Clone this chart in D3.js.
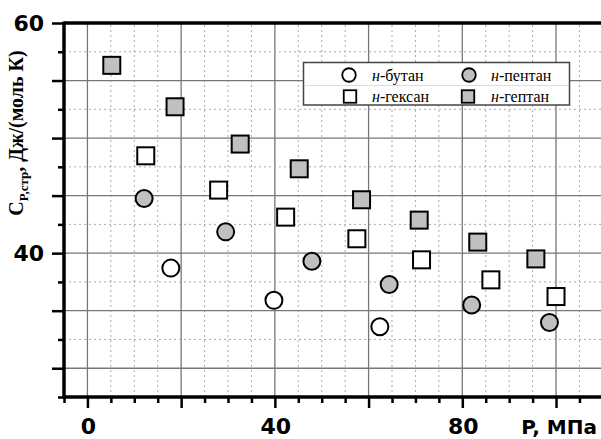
<!DOCTYPE html>
<html>
<head>
<meta charset="utf-8">
<script src="https://cdn.jsdelivr.net/npm/d3@7"></script>
<style>
  body { margin: 0; background: #fff; }
  .tickLabel { font-family: "DejaVu Sans", sans-serif; font-weight: bold; font-size: 22px; }
  .legendText { font-family: "Liberation Serif", serif; font-size: 16px; }
</style>
</head>
<body>
<div id="chart"></div>
<script>
// values: P in MPa, C in J/(mol K)
var butaneP = [17.8, 39.8, 62.4];
var butaneC = [38.7, 35.9, 33.6];
var pentaneP = [12.1, 29.5, 47.9, 64.4, 82.0, 98.6];
var pentaneC = [44.75, 41.85, 39.3, 37.28, 35.5, 33.97];
var hexaneP = [12.45, 28.0, 42.3, 57.5, 71.3, 86.1, 100.0];
var hexaneC = [48.46, 45.48, 43.13, 41.25, 39.42, 37.68, 36.23];
var heptaneP = [5.2, 18.7, 32.6, 45.2, 58.5, 70.8, 83.3, 95.7];
var heptaneC = [56.32, 52.72, 49.48, 47.33, 44.64, 42.87, 40.96, 39.5];

var seriesNames = ["н-бутан", "н-пентан", "н-гексан", "н-гептан"];
var xTickLabels = [0, 40, 80];
var yTickLabels = [40, 60];

var series = [
  {name: seriesNames[0], p: butaneP, c: butaneC, shape: "circle", fill: "#fff"},
  {name: seriesNames[1], p: pentaneP, c: pentaneC, shape: "circle", fill: "#c0c0c0"},
  {name: seriesNames[2], p: hexaneP, c: hexaneC, shape: "square", fill: "#fff"},
  {name: seriesNames[3], p: heptaneP, c: heptaneC, shape: "square", fill: "#c0c0c0"}
];

var width = 601, height = 439;
var margin = {top: 23, left: 64, bottom: 42};

var x = d3.scaleLinear().domain([-5, 109.6]).range([margin.left, width]);
var y = d3.scaleLinear().domain([27.5, 60]).range([height - margin.bottom, margin.top]);

var svg = d3.select("#chart").append("svg")
    .attr("width", width)
    .attr("height", height);

// grid
var xGrid = d3.range(-5, 106, 5);
var yGrid = d3.range(27.5, 58, 2.5);

svg.append("g").selectAll("line")
    .data(xGrid.filter(function(d) { return d > -5; }))
    .enter().append("line")
    .attr("x1", function(d) { return x(d); })
    .attr("x2", function(d) { return x(d); })
    .attr("y1", y(27.5))
    .attr("y2", y(60))
    .attr("stroke", function(d) { return d % 20 === 0 ? "#777" : "#aaa"; })
    .attr("stroke-width", function(d) { return d % 20 === 0 ? 1.3 : 1; })
    .attr("stroke-dasharray", function(d) { return d % 20 === 0 ? null : "2,3"; });

svg.append("g").selectAll("line")
    .data(yGrid.filter(function(d) { return d > 27.5; }))
    .enter().append("line")
    .attr("x1", x(-5))
    .attr("x2", width)
    .attr("y1", function(d) { return y(d); })
    .attr("y2", function(d) { return y(d); })
    .attr("stroke", function(d) { return d % 5 === 0 ? "#777" : "#aaa"; })
    .attr("stroke-width", function(d) { return d % 5 === 0 ? 1.3 : 1; })
    .attr("stroke-dasharray", function(d) { return d % 5 === 0 ? null : "2,3"; });

// axes
var yMajor = d3.range(30, 61, 5);
var yMinor = d3.range(27.5, 60, 5);
var xMajor = d3.range(0, 101, 20);
var xMinor = xGrid.filter(function(d) { return d % 20 !== 0; });

function styleAxis(g) {
  g.select(".domain").remove();
  g.selectAll(".tick line").attr("stroke", "#000").attr("stroke-width", 2.5);
  g.selectAll(".tick text").remove();
}

svg.append("g")
    .attr("transform", "translate(" + x(-5) + ",0)")
    .call(d3.axisLeft(y).tickValues(yMajor).tickSize(12))
    .call(styleAxis);
svg.append("g")
    .attr("transform", "translate(" + x(-5) + ",0)")
    .call(d3.axisLeft(y).tickValues(yMinor).tickSize(6))
    .call(styleAxis);
svg.append("g")
    .attr("transform", "translate(0," + y(27.5) + ")")
    .call(d3.axisBottom(x).tickValues(xMajor).tickSize(11))
    .call(styleAxis);
svg.append("g")
    .attr("transform", "translate(0," + y(27.5) + ")")
    .call(d3.axisBottom(x).tickValues(xMinor).tickSize(6))
    .call(styleAxis);

// frame lines: left, bottom, top
svg.append("line").attr("x1", x(-5)).attr("x2", x(-5)).attr("y1", y(60) - 1.5).attr("y2", y(27.5) + 1.5)
    .attr("stroke", "#000").attr("stroke-width", 3.5);
svg.append("line").attr("x1", x(-5)).attr("x2", width).attr("y1", y(27.5)).attr("y2", y(27.5))
    .attr("stroke", "#000").attr("stroke-width", 3.5);
svg.append("line").attr("x1", x(-5)).attr("x2", width).attr("y1", y(60)).attr("y2", y(60))
    .attr("stroke", "#000").attr("stroke-width", 3.5);

// tick labels
svg.selectAll(".yLabel")
    .data(yTickLabels)
    .enter().append("text")
    .attr("class", "tickLabel")
    .attr("x", 44)
    .attr("y", function(d) { return y(d); })
    .attr("dy", "0.36em")
    .attr("text-anchor", "end")
    .text(function(d) { return d; });

svg.selectAll(".xLabel")
    .data(xTickLabels)
    .enter().append("text")
    .attr("class", "tickLabel")
    .attr("x", function(d) { return x(d) + 1; })
    .attr("y", 434)
    .attr("text-anchor", "middle")
    .text(function(d) { return d; });

svg.append("text")
    .attr("class", "tickLabel")
    .attr("x", 597)
    .attr("y", 434)
    .attr("text-anchor", "end")
    .style("font-size", "20px")
    .text("P, МПа");

// y axis title
var yTitle = svg.append("text")
    .attr("transform", "translate(23,133)rotate(-90)")
    .attr("text-anchor", "middle")
    .style("font-family", "'Liberation Serif', serif")
    .style("font-weight", "bold")
    .style("font-size", "20px");
yTitle.append("tspan").text("C");
yTitle.append("tspan").attr("dy", 5).style("font-size", "13px").text("P,стр");
yTitle.append("tspan").attr("dy", -5).text(", Дж/(моль К)");

// points
function drawMarker(sel, shape, size) {
  if (shape === "circle") {
    sel.append("circle").attr("r", size / 2);
  } else {
    sel.append("rect").attr("x", -size / 2).attr("y", -size / 2)
        .attr("width", size).attr("height", size);
  }
}

series.forEach(function(s) {
  var pts = s.p.map(function(v, i) { return {p: v, c: s.c[i]}; });
  var g = svg.append("g").selectAll("g")
      .data(pts)
      .enter().append("g")
      .attr("transform", function(d) { return "translate(" + x(d.p) + "," + y(d.c) + ")"; });
  drawMarker(g, s.shape, 17);
  g.selectAll("circle, rect")
      .attr("fill", s.fill)
      .attr("stroke", "#000")
      .attr("stroke-width", 2);
});

// legend
var legend = svg.append("g");
legend.append("rect")
    .attr("x", 303.5).attr("y", 62.5)
    .attr("width", 266).attr("height", 42.5)
    .attr("fill", "#fff")
    .attr("stroke", "#444")
    .attr("stroke-width", 1.5);
legend.append("line")
    .attr("x1", 304.5).attr("x2", 568.5).attr("y1", 85.5).attr("y2", 85.5)
    .attr("stroke", "#ddd");

var legendPos = [
  {sx: 349, tx: 372, y: 75},
  {sx: 469, tx: 491, y: 75},
  {sx: 350, tx: 372, y: 96.5},
  {sx: 468, tx: 491, y: 96.5}
];

series.forEach(function(s, i) {
  var item = legend.append("g")
      .attr("transform", "translate(" + legendPos[i].sx + "," + legendPos[i].y + ")");
  drawMarker(item, s.shape, s.shape === "circle" ? 13.5 : 12.5);
  item.selectAll("circle, rect")
      .attr("fill", s.fill)
      .attr("stroke", "#000")
      .attr("stroke-width", 1.8);
  var t = legend.append("text")
      .attr("class", "legendText")
      .attr("x", legendPos[i].tx)
      .attr("y", legendPos[i].y)
      .attr("dy", "0.35em");
  t.append("tspan").style("font-style", "italic").text(s.name.split("-")[0]);
  t.append("tspan").text("-" + s.name.split("-")[1]);
});
</script>
</body>
</html>
